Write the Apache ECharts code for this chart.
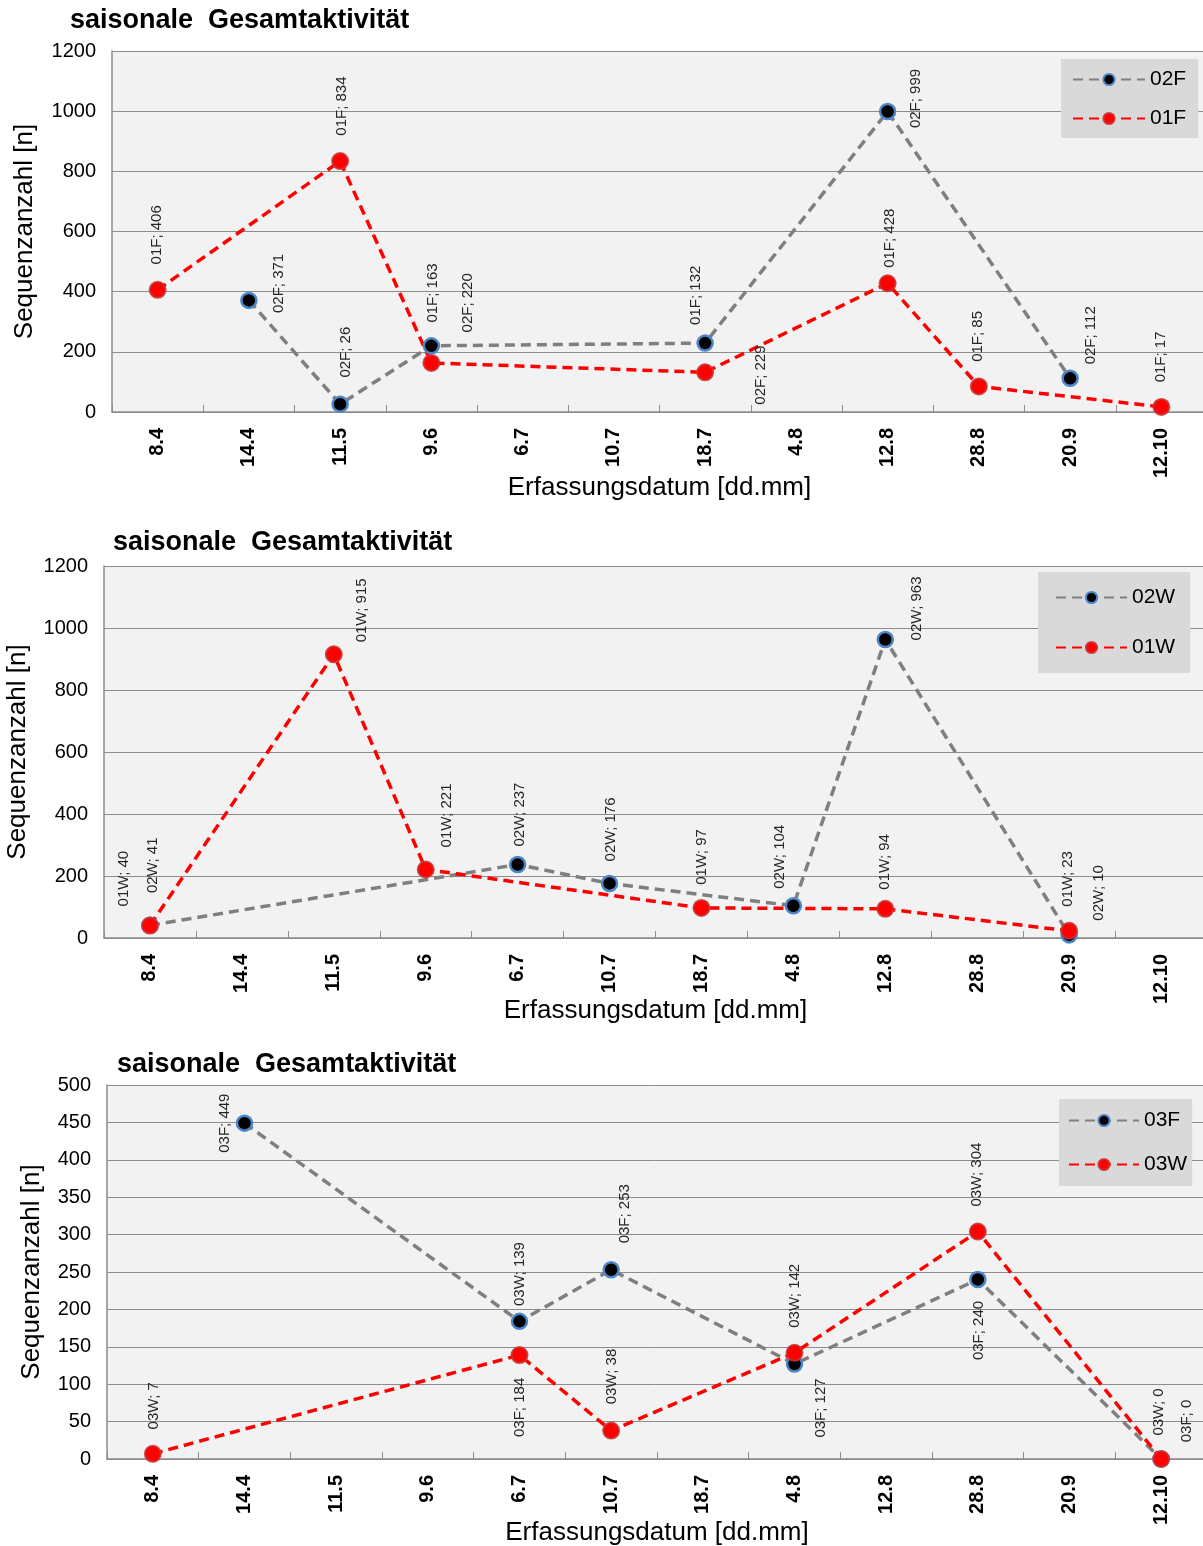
<!DOCTYPE html>
<html>
<head>
<meta charset="utf-8">
<script src="https://cdn.jsdelivr.net/npm/echarts@6/dist/echarts.min.js"></script>
<style>
html,body{margin:0;padding:0;background:#fff;}
#c{width:1203px;height:1546px;}
</style>
</head>
<body>
<div id="c"></div>
<script>
// ---- data ----
const categories = ['8.4','14.4','11.5','9.6','6.7','10.7','18.7','4.8','12.8','28.8','20.9','12.10'];
const chartTitle = 'saisonale  Gesamtaktivität';
const xAxisTitle = 'Erfassungsdatum [dd.mm]';
const yAxisTitle = 'Sequenzanzahl [n]';

// chart 1
const s02F = [null, 371, 26, 220, null, null, 229, null, 999, null, 112, null];
const s01F = [406, null, 834, 163, null, null, 132, null, 428, 85, null, 17];
// chart 2
const s02W = [41, null, null, null, 237, 176, null, 104, 963, null, 10, null];
const s01W = [40, null, 915, 221, null, null, 97, null, 94, null, 23, null];
// chart 3
const s03F = [null, 449, null, null, 184, 253, null, 127, null, 240, null, 0];
const s03W = [7, null, null, null, 139, 38, null, 142, null, 304, null, 0];

const yMax = [1200, 1200, 500];
const yStep = [200, 200, 50];

// ---- label placement (offset of label centre from point, px) ----
const off02F = [null,[30,-17],[6,-52],[36,-43],null,null,[56,32],null,[28,-13],null,[21,-43],null];
const off01F = [[-1,-55],null,[2,-55],[1,-70],null,null,[-9,-77],null,[2,-45],[-1,-50],null,[-1,-50]];
const off02W = [[3,-60],null,null,null,[2,-50],[1,-54],null,[-14,-49],[32,-31],null,[30,-42],null];
const off01W = [[-26,-47],null,[28,-44],[21,-54],null,null,[0,-51],null,[0,-47],null,[-1,-52],null];
const off03F = [null,[-20,0],null,null,[0,86],[14,-56],null,[26,44],null,[1,51],null,[26,-38]];
const off03W = [[1,-48],null,null,null,[0,-81],[1,-54],null,[0,-57],null,[-1,-57],null,[-2,-47]];

const FONT = "'Liberation Sans', Arial, sans-serif";

const greyStyle = { line: '#7f7f7f', fill: '#000000', border: '#4a86c8', size: 15, bw: 2.5 };
const redStyle  = { line: '#ff0000', fill: '#ff0000', border: 'rgba(200,50,50,0.85)', size: 16, bw: 2 };

function mkSeries(name, values, offsets, idx, st) {
  const half = (st.size + st.bw) / 2;
  return {
    name: name,
    type: 'line',
    xAxisIndex: idx,
    yAxisIndex: idx,
    connectNulls: true,
    symbol: 'circle',
    symbolSize: st.size,
    showAllSymbol: true,
    lineStyle: { color: st.line, width: 3.5, type: [10, 6] },
    itemStyle: { color: st.fill, borderColor: st.border, borderWidth: st.bw },
    label: {
      show: true,
      formatter: '{a}; {c}',
      rotate: 90,
      align: 'center',
      verticalAlign: 'middle',
      fontSize: 15,
      fontFamily: FONT,
      color: '#262626'
    },
    emphasis: { disabled: true },
    data: values.map((v, i) => v == null ? '-' : {
      value: v,
      label: { position: [half + offsets[i][0], half + offsets[i][1]] }
    })
  };
}

const grids = [
  { left: 112, top: 51, width: 1095, height: 361 },
  { left: 104, top: 566, width: 1103, height: 372 },
  { left: 107, top: 1085, width: 1100, height: 374 }
];
const titlePos = [[70, 7], [113, 529], [117, 1051]];
const xNameGap = [63, 60, 61];
const yNameGap = [74, 73, 62];
const legendCfg = [
  { left: 1061, top: 59, padding: [10, 12, 9, 11], itemWidth: 72, itemGap: 18, data: ['02F', '01F'] },
  { left: 1038, top: 572, padding: [15, 15, 15, 17], itemWidth: 71, itemGap: 29, data: ['02W', '01W'] },
  { left: 1059, top: 1099, padding: [11, 5, 11, 9], itemWidth: 70, itemGap: 23, data: ['03F', '03W'] }
];

const option = {
  animation: false,
  backgroundColor: '#ffffff',
  title: titlePos.map(p => ({
    text: chartTitle, left: p[0], top: p[1], padding: 0,
    textStyle: { fontSize: 27, fontWeight: 'bold', fontFamily: FONT, color: '#000' }
  })),
  legend: legendCfg.map(l => ({
    left: l.left, top: l.top, orient: 'vertical', padding: l.padding,
    backgroundColor: '#d9d9d9', borderWidth: 0,
    itemWidth: l.itemWidth, itemHeight: 14, itemGap: l.itemGap,
    textStyle: { fontSize: 21, fontFamily: FONT, color: '#000' },
    data: l.data
  })),
  grid: grids.map(g => Object.assign({ show: true, backgroundColor: '#f2f2f2', borderWidth: 0, outerBoundsMode: 'none', containLabel: false }, g)),
  xAxis: grids.map((g, i) => ({
    type: 'category', gridIndex: i, data: categories, boundaryGap: true,
    name: xAxisTitle, nameLocation: 'middle', nameGap: xNameGap[i], nameMoveOverlap: false,
    nameTextStyle: { fontSize: 26, fontFamily: FONT, color: '#000' },
    axisLine: { show: true, lineStyle: { color: '#8c8c8c', width: 1.5 } },
    axisTick: { show: true, inside: true, length: 7, lineStyle: { color: '#8c8c8c', width: 1 } },
    axisLabel: { rotate: 90, margin: 16, fontSize: 20, fontWeight: 'bold', fontFamily: FONT, color: '#000', interval: 0 },
    splitLine: { show: false }
  })),
  yAxis: grids.map((g, i) => ({
    type: 'value', gridIndex: i, min: 0, max: yMax[i], interval: yStep[i],
    name: yAxisTitle, nameLocation: 'middle', nameGap: yNameGap[i], nameRotate: 90, nameMoveOverlap: false,
    nameTextStyle: { fontSize: 26, fontFamily: FONT, color: '#000' },
    axisLine: { show: true, lineStyle: { color: '#8c8c8c', width: 1.5 } },
    axisTick: { show: false },
    axisLabel: { margin: 16, fontSize: 20, fontFamily: FONT, color: '#000', formatter: v => String(v) },
    splitLine: { show: true, lineStyle: { color: '#8c8c8c', width: 1 } }
  })),
  series: [
    mkSeries('02F', s02F, off02F, 0, greyStyle),
    mkSeries('01F', s01F, off01F, 0, redStyle),
    mkSeries('02W', s02W, off02W, 1, greyStyle),
    mkSeries('01W', s01W, off01W, 1, redStyle),
    mkSeries('03F', s03F, off03F, 2, greyStyle),
    mkSeries('03W', s03W, off03W, 2, redStyle)
  ]
};

const chart = echarts.init(document.getElementById('c'), null, { renderer: 'canvas' });
chart.setOption(option);
</script>
</body>
</html>
